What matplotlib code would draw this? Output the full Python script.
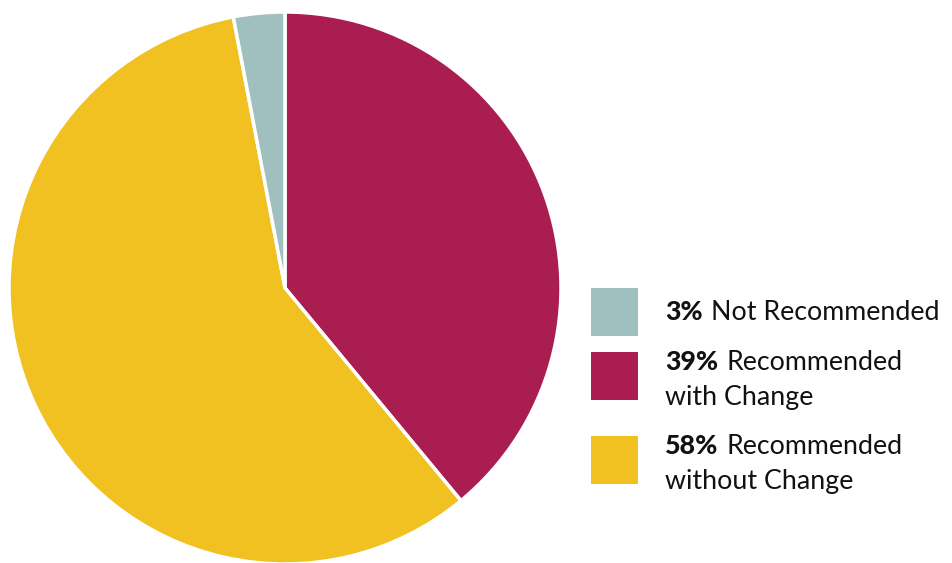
import matplotlib
matplotlib.use("Agg")
import matplotlib.pyplot as plt
from matplotlib.patches import Rectangle

# Data
shares = [39, 58, 3]
pcts = ["39%", "58%", "3%"]
names = ["Recommended\nwith Change", "Recommended\nwithout Change", "Not Recommended"]
colors = ["#A91D51", "#F1C021", "#A0BFBF"]

W, H = 953, 563
fig = plt.figure(figsize=(W / 100, H / 100), dpi=100)

# pie
ax = fig.add_axes([(285 - 276) / W, (H - 288 - 276) / H, 552 / W, 552 / H])
ax.pie(shares, colors=colors, startangle=90, counterclock=False, radius=1,
       wedgeprops=dict(edgecolor="white", linewidth=2.5))
ax.set_xlim(-1, 1)
ax.set_ylim(-1, 1)
ax.set_aspect("equal")
ax.axis("off")

# legend drawn by hand: teal, red, yellow from top
order = [2, 0, 1]
box_tops = [288, 352, 436]
fs = 19.3
fig.canvas.draw()
renderer = fig.canvas.get_renderer()
for i, top in zip(order, box_tops):
    fig.patches.append(Rectangle((591 / W, (H - top - 48) / H), 47 / W, 48 / H,
                                 facecolor=colors[i], edgecolor="none",
                                 transform=fig.transFigure))
    lines = names[i].split("\n")
    y0 = (H - (top + 32)) / H if len(lines) == 1 else (H - (top + 18)) / H
    t = fig.text(665 / W, y0, pcts[i], fontsize=fs, fontweight=900,
                 family="Lato", color="#111111", va="baseline")
    bb = t.get_window_extent(renderer)
    fig.text((bb.x1 + 8) / W, y0, lines[0], fontsize=fs, family="Lato",
             color="#111111", va="baseline")
    if len(lines) > 1:
        fig.text(665 / W, y0 - 35 / H, lines[1], fontsize=fs, family="Lato",
                 color="#111111", va="baseline")

fig.savefig("out.png", dpi=100)
